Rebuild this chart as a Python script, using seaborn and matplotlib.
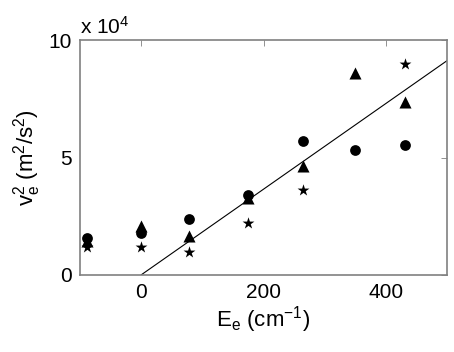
import numpy as np
import pandas as pd
import matplotlib
matplotlib.use('Agg')
import matplotlib.pyplot as plt
import seaborn as sns

# values (v_e^2 in m^2/s^2)
energy = [-88, 0, 78, 174, 264, 350, 431]
v2_circle = [15700, 17900, 24000, 33900, 57000, 53300, 55500]
v2_triangle = [14500, 20800, 16600, 32800, 46500, 85800, 73800]
v2_star = [11900, 11900, 9800, 22300, 36200, None, 90000]
fit_slope = 182.6          # m^2/s^2 per cm^-1, line through the origin
fit_range = [0, 500]

sns.set_style('white')
plt.rcParams['font.family'] = ['Liberation Sans', 'DejaVu Sans']
plt.rcParams['mathtext.fontset'] = 'custom'
plt.rcParams['mathtext.rm'] = 'Liberation Sans'
plt.rcParams['mathtext.it'] = 'Liberation Sans'
plt.rcParams['text.color'] = 'black'
plt.rcParams['axes.labelcolor'] = 'black'
plt.rcParams['xtick.color'] = 'black'
plt.rcParams['ytick.color'] = 'black'

df = pd.DataFrame({'E': energy, 'circle': v2_circle,
                   'triangle': v2_triangle, 'star': v2_star})
for c in ['circle', 'triangle', 'star']:
    df[c] = df[c].astype(float) / 1e4

fig = plt.figure(figsize=(4.54, 3.52), dpi=100)
ax = fig.add_axes([0.176, 0.219, 0.809, 0.667])

fx = np.array(fit_range, dtype=float)
sns.lineplot(x=fx, y=fit_slope * fx / 1e4, color='black', lw=0.8, ax=ax)
sns.scatterplot(data=df, x='E', y='triangle', marker='^', s=75, color='black',
                edgecolor='black', linewidth=0, ax=ax)
sns.scatterplot(data=df, x='E', y='circle', marker='o', s=60, color='black',
                edgecolor='black', linewidth=0, ax=ax)
sns.scatterplot(data=df, x='E', y='star', marker='*', s=80, color='black',
                edgecolor='black', linewidth=0, ax=ax)

ax.set_xlim(-100, 500)
ax.set_ylim(0, 10)
ax.set_xticks([0, 200, 400])
ax.set_yticks([0, 5, 10])
ax.tick_params(direction='in', length=4, width=0.6, color='#808080',
               labelcolor='black', labelsize=15, top=True, right=True, pad=6)
for s in ax.spines.values():
    s.set_color('#808080')
    s.set_linewidth(1.2)

ax.set_xlabel(r'$\mathregular{E_e\ (cm^{-1})}$', fontsize=16, labelpad=1)
ax.set_ylabel(r'$\mathregular{v_e^2\ (m^2/s^2)}$', fontsize=16, labelpad=4)
ax.text(0.0, 1.01, r'$\mathregular{x\ 10^4}$', transform=ax.transAxes,
        fontsize=15, ha='left', va='bottom')

fig.savefig('out.png', dpi=100)
